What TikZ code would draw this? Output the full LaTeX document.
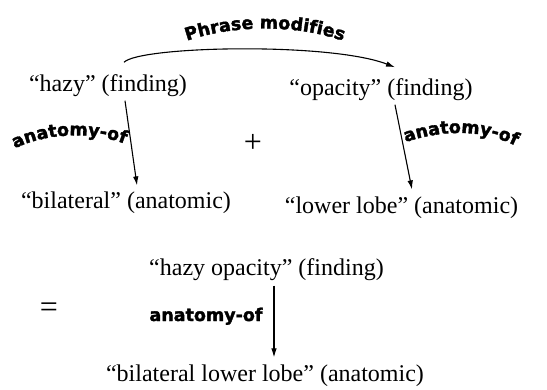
\documentclass[tikz,border=0pt]{standalone}
\usepackage{fontspec}
\setmainfont{Liberation Serif}
\newfontfamily\lblfamily{DejaVu Sans}[BoldFeatures={FakeBold=2}]
\newcommand\lblstyle{\lblfamily\bfseries\fontsize{17.5}{20}\selectfont}
\usetikzlibrary{arrows.meta,decorations.text,calc}
\begin{document}
\begin{tikzpicture}[x=1pt,y=-1pt,
  txt/.style={inner sep=0pt, font=\fontsize{24}{28}\selectfont},
  sym/.style={inner sep=0pt, font=\fontsize{32}{36}\selectfont},
  arr/.style={line width=1.1pt, -{Latex[length=9pt,width=5.5pt]}},
  lbl/.style={decorate, decoration={text along path, text align=center, text={|\lblstyle|#1}}}
]
\useasboundingbox (0,0) rectangle (547,389);

\node[txt] (hazy) at (108,86) {“hazy” (finding)};
\node[txt] (opac) at (381,90) {“opacity” (finding)};
\node[txt] (bilat) at (126,203) {“bilateral” (anatomic)};
\node[txt] (lobe) at (401.5,208) {“lower lobe” (anatomic)};
\node[txt] (hazyop) at (266.5,270) {“hazy opacity” (finding)};
\node[txt] (bll) at (265,376) {“bilateral lower lobe” (anatomic)};

\node[sym] (plus) at (253,143) {+};
\node[sym] (eq) at (49,310) {=};

% Phrase modifies
\draw[arr] ($(hazy.north)+(16,-12.5)$) .. controls (140,46) and (330,42) .. ($(opac.north)+(14,-11.5)$);
\path[lbl={Phrase modifies}] (176,45) .. controls (228,23) and (302,23) .. (354,45);

% anatomy-of (left)
\draw[arr] ($(hazy.south)+(17,3.5)$) -- ($(bilat.north)+(11,-6.5)$);
\path[lbl={anatomy-of}] (12,150) .. controls (45,132) and (95,131) .. (128,145);

% anatomy-of (right)
\draw[arr] ($(opac.south)+(14,3.5)$) -- ($(lobe.north)+(10.5,-7.5)$);
\path[lbl={anatomy-of}] (403,143) .. controls (440,130) and (482,128) .. (518,147);

% anatomy-of (bottom)
\draw[arr] ($(hazyop.south)+(7.5,4.5)$) -- ($(bll.north)+(9,-7.5)$);
\node[inner sep=0pt, anchor=base, font=\lblstyle] (lblb) at (206,321) {anatomy-of};
\end{tikzpicture}
\end{document}
